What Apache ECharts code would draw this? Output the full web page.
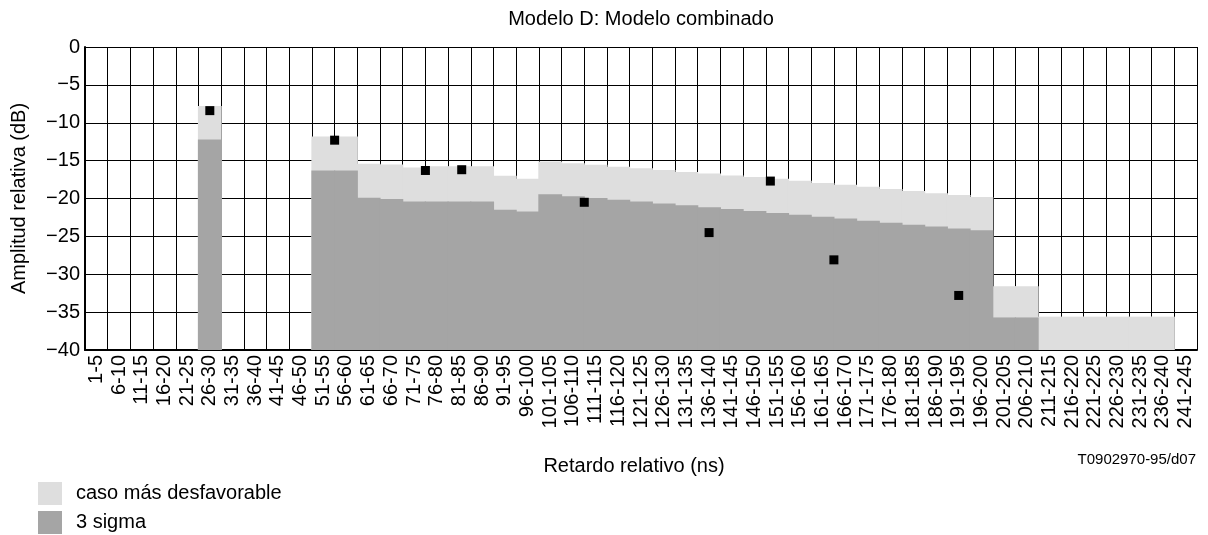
<!DOCTYPE html>
<html>
<head>
<meta charset="utf-8">
<script src="https://cdn.jsdelivr.net/npm/echarts@6/dist/echarts.min.js"></script>
<style>
  html, body { margin: 0; padding: 0; background: #fff; }
  #chart { width: 1208px; height: 535px; }
</style>
</head>
<body>
<div id="chart"></div>
<script>
// retardo relativo (ns), una categoría cada 5 ns
const categories = [
  '1-5', '6-10', '11-15', '16-20', '21-25', '26-30', '31-35', '36-40', '41-45', '46-50',
  '51-55', '56-60', '61-65', '66-70', '71-75', '76-80', '81-85', '86-90', '91-95', '96-100',
  '101-105', '106-110', '111-115', '116-120', '121-125', '126-130', '131-135', '136-140', '141-145', '146-150',
  '151-155', '156-160', '161-165', '166-170', '171-175', '176-180', '181-185', '186-190', '191-195', '196-200',
  '201-205', '206-210', '211-215', '216-220', '221-225', '226-230', '231-235', '236-240', '241-245'
]

// caso más desfavorable (dB)
const worstCase = [
  null, null, null, null, null, -7.8, null, null, null, null,
  -11.8, -11.8, -15.4, -15.5, -15.9, -15.75, -15.75, -15.75, -17.0, -17.4,
  -15.1, -15.35, -15.55, -15.8, -16.0, -16.25, -16.5, -16.7, -16.95, -17.15,
  -17.4, -17.65, -17.95, -18.2, -18.45, -18.75, -19.0, -19.3, -19.55, -19.8,
  -31.6, -31.6, -35.6, -35.6, -35.6, -35.6, -35.6, -35.6, null
]

// 3 sigma (dB)
const sigma3 = [
  null, null, null, null, null, -12.2, null, null, null, null,
  -16.3, -16.3, -19.9, -20.05, -20.4, -20.4, -20.4, -20.4, -21.5, -21.7,
  -19.45, -19.7, -19.95, -20.15, -20.4, -20.65, -20.9, -21.15, -21.4, -21.65,
  -21.9, -22.15, -22.4, -22.65, -22.95, -23.2, -23.45, -23.7, -23.95, -24.2,
  -35.7, -35.7, null, null, null, null, null, null, null
]

// puntos medidos (cuadrados negros)
const measuredNs = [27.5, 55, 75, 83, 110, 137.5, 151, 165, 192.5]
const measuredDb = [-8.4, -12.3, -16.3, -16.2, -20.5, -24.5, -17.7, -28.1, -32.8]

const FLOOR_DB = -40   // las barras salen del fondo del eje
const MAX_NS = 245

const FONT = 'Liberation Sans, Arial, sans-serif'
const LIGHT = '#dedede'
const DARK = '#a5a5a5'

const lift = v => (v == null ? null : v - FLOOR_DB)

const chart = echarts.init(document.getElementById('chart'), null, { renderer: 'canvas' })

const option = {
  animation: false,
  backgroundColor: '#fff',
  textStyle: { fontFamily: FONT },
  graphic: [
    {
      type: 'text',
      x: 641, y: 19,
      style: {
        text: 'Modelo D: Modelo combinado',
        font: '20px ' + FONT,
        fill: '#000',
        align: 'center',
        verticalAlign: 'middle'
      }
    },
    {
      type: 'text',
      x: 1196, y: 460,
      style: {
        text: 'T0902970-95/d07',
        font: '15px ' + FONT,
        fill: '#000',
        align: 'right',
        verticalAlign: 'middle'
      }
    }
  ],
  legend: {
    orient: 'vertical',
    left: 38,
    top: 482,
    height: 60,
    padding: 0,
    itemWidth: 24,
    itemHeight: 23,
    itemGap: 6,
    icon: 'rect',
    data: ['caso más desfavorable', '3 sigma'],
    textStyle: { fontSize: 20, color: '#000', fontFamily: FONT, padding: [0, 0, 0, 9] }
  },
  grid: { left: 85, right: 11, top: 47, bottom: 185 },
  xAxis: [
    {
      type: 'category',
      data: categories,
      name: 'Retardo relativo (ns)',
      nameLocation: 'middle',
      nameGap: 106,
      nameTextStyle: { fontSize: 20, color: '#000', fontFamily: FONT, padding: [0, 14, 0, 0] },
      axisLine: { lineStyle: { color: '#000', width: 2 } },
      axisTick: { show: false },
      axisLabel: { interval: 0, rotate: 90, fontSize: 20, color: '#000', margin: 5, fontFamily: FONT },
      splitLine: { show: true, interval: 0, lineStyle: { color: '#000', width: 1 } }
    },
    {
      type: 'value',
      min: 0,
      max: MAX_NS,
      show: false
    }
  ],
  yAxis: {
    type: 'value',
    min: 0,
    max: -FLOOR_DB,
    interval: 5,
    name: 'Amplitud relativa (dB)',
    nameLocation: 'middle',
    nameGap: 56,
    nameTextStyle: { fontSize: 20, color: '#000', fontFamily: FONT },
    axisLine: { show: true, lineStyle: { color: '#000', width: 2 } },
    axisTick: { show: false },
    axisLabel: {
      fontSize: 20,
      color: '#000',
      margin: 5,
      fontFamily: FONT,
      formatter: v => {
        const db = v + FLOOR_DB
        return db === 0 ? '0' : '\u2212' + Math.abs(db)
      }
    },
    splitLine: { show: true, lineStyle: { color: '#000', width: 1 } }
  },
  series: [
    {
      name: 'caso más desfavorable',
      type: 'bar',
      data: worstCase.map(lift),
      barWidth: '105%',
      barGap: '-100%',
      itemStyle: { color: LIGHT }
    },
    {
      name: '3 sigma',
      type: 'bar',
      data: sigma3.map(lift),
      barWidth: '105%',
      barGap: '-100%',
      itemStyle: { color: DARK }
    },
    {
      name: 'medido',
      type: 'scatter',
      xAxisIndex: 1,
      data: measuredNs.map((ns, i) => [ns, lift(measuredDb[i])]),
      symbol: 'rect',
      symbolSize: 9,
      itemStyle: { color: '#000', opacity: 1 },
      z: 5
    }
  ]
}

chart.setOption(option)
</script>
</body>
</html>
